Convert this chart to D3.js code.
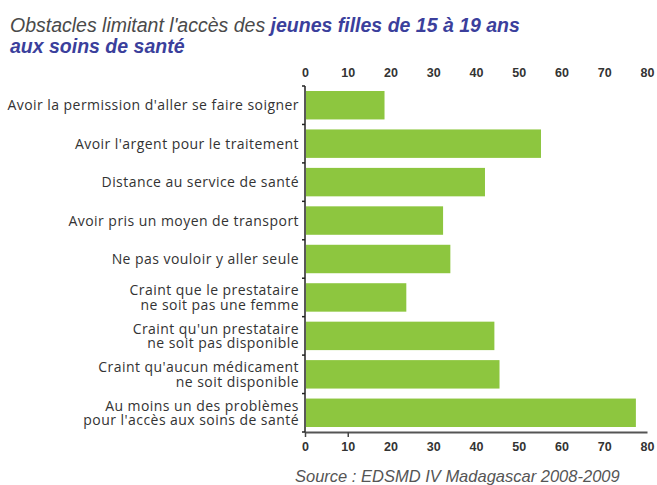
<!DOCTYPE html>
<html>
<head>
<meta charset="utf-8">
<script src="https://d3js.org/d3.v7.min.js"></script>
<style>
  body { margin: 0; background: #fff; }
  svg text { font-family: "Liberation Sans", Arial, sans-serif; }
</style>
</head>
<body>
<div id="chart-area"></div>
<script>
// obstacles (percent)
var categories = [
  ["Avoir la permission d'aller se faire soigner"],
  ["Avoir l'argent pour le traitement"],
  ["Distance au service de santé"],
  ["Avoir pris un moyen de transport"],
  ["Ne pas vouloir y aller seule"],
  ["Craint que le prestataire", "ne soit pas une femme"],
  ["Craint qu'un prestataire", "ne soit pas disponible"],
  ["Craint qu'aucun médicament", "ne soit disponible"],
  ["Au moins un des problèmes", "pour l'accès aux soins de santé"]
];
var values = [18.6, 55.2, 42.1, 32.3, 34.0, 23.7, 44.3, 45.5, 77.4];
var ticks = [0, 10, 20, 30, 40, 50, 60, 70, 80];

var margin = {left: 305, right: 10, top: 86, bottom: 53};
var width = 657 - margin.left - margin.right;
var height = 485 - margin.top - margin.bottom;

var svg = d3.select("#chart-area")
  .append("svg")
  .attr("width", 657)
  .attr("height", 485);

// title
var title = svg.append("text")
  .attr("x", 10)
  .attr("y", 32)
  .attr("font-size", "19.5px")
  .attr("font-style", "italic");
title.append("tspan").attr("fill", "#4a4a4a").text("Obstacles limitant l'accès des ");
title.append("tspan").attr("fill", "#3b3f9c").attr("font-weight", "bold").text("jeunes filles de 15 à 19 ans");
svg.append("text")
  .attr("x", 10)
  .attr("y", 53)
  .attr("font-size", "19.5px")
  .attr("font-style", "italic")
  .attr("font-weight", "bold")
  .attr("fill", "#3b3f9c")
  .text("aux soins de santé");

var g = svg.append("g")
  .attr("transform", "translate(" + margin.left + ", " + margin.top + ")");

var x = d3.scaleLinear().domain([0, 80]).range([0, 342]);
var y = d3.scaleBand()
  .domain(d3.range(categories.length))
  .range([0, height])
  .paddingInner(0.26)
  .paddingOuter(0.13);

// top tick labels
var topAxis = g.append("g")
  .call(d3.axisTop(x).tickValues(ticks).tickSize(0).tickPadding(9));
topAxis.select(".domain").remove();
topAxis.selectAll("text")
  .attr("font-size", "12.5px")
  .attr("font-weight", "bold")
  .attr("fill", "#333")
  .attr("font-family", "Liberation Sans, Arial, sans-serif");

// bottom axis
var bottomAxis = g.append("g")
  .attr("transform", "translate(0," + height + ")")
  .call(d3.axisBottom(x).tickValues(ticks).tickSizeInner(5).tickSizeOuter(0).tickPadding(5));
bottomAxis.select(".domain").attr("stroke", "#555").attr("stroke-width", 2);
bottomAxis.selectAll(".tick line")
  .attr("stroke", "#444")
  .attr("stroke-width", 1.5)
  .attr("opacity", d => d <= 10 ? 1 : 0);
bottomAxis.selectAll("text")
  .attr("font-size", "12.5px")
  .attr("font-weight", "bold")
  .attr("fill", "#333")
  .attr("font-family", "Liberation Sans, Arial, sans-serif");

// left axis line with ticks between categories
g.append("line")
  .attr("x1", 0).attr("x2", 0)
  .attr("y1", 0).attr("y2", height)
  .attr("stroke", "#222")
  .attr("stroke-width", 1.5);
var bounds = d3.range(categories.length + 1).map(i => i * y.step());
g.selectAll(".ytick").data(bounds).enter().append("line")
  .attr("class", "ytick")
  .attr("x1", -3).attr("x2", 0)
  .attr("y1", d => d).attr("y2", d => d)
  .attr("stroke", "#222")
  .attr("stroke-width", 1.5);

// bars
g.selectAll("rect").data(values).enter().append("rect")
  .attr("x", 1)
  .attr("y", (d, i) => y(i))
  .attr("width", d => x(d) - 1)
  .attr("height", y.bandwidth())
  .attr("fill", "#8dc63f");

// category labels
var labels = g.selectAll(".cat").data(categories).enter().append("text")
  .attr("class", "cat")
  .attr("text-anchor", "end")
  .attr("font-size", "14px")
  .attr("letter-spacing", "0.45px")
  .attr("fill", "#333")
  .style("font-family", "'Open Sans', sans-serif")
  .attr("transform", (d, i) => "translate(-6," + (y(i) + y.bandwidth() / 2) + ")");
labels.each(function(d) {
  var t = d3.select(this);
  var n = d.length;
  d.forEach((line, k) => {
    t.append("tspan")
      .attr("x", 0)
      .attr("y", (k - (n - 1) / 2) * 14.5 + 5)
      .text(line);
  });
});

// source
svg.append("text")
  .attr("x", 295)
  .attr("y", 482)
  .attr("font-size", "16.5px")
  .attr("font-style", "italic")
  .attr("fill", "#555")
  .text("Source : EDSMD IV Madagascar 2008-2009");
</script>
</body>
</html>
